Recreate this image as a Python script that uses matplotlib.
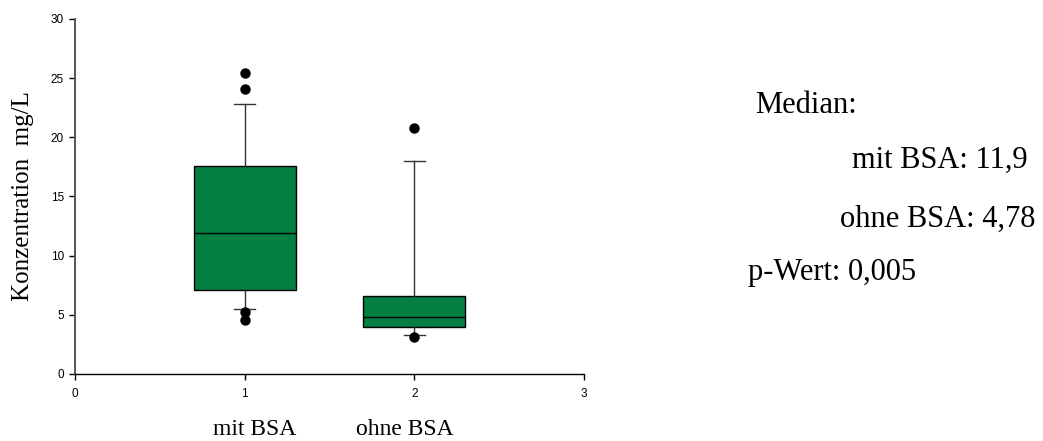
import matplotlib.pyplot as plt

# values (mg/L)
groups = ["mit BSA", "ohne BSA"]
positions = [1, 2]
q1 = [7.1, 4.0]
medians = [11.9, 4.78]
q3 = [17.6, 6.55]
whis_low = [5.5, 3.3]
whis_high = [22.8, 18.0]
outliers = [[25.4, 24.1, 5.2, 4.6], [20.8, 3.1]]

notes_head = "Median:"
notes_mit = "mit BSA: 11,9"
notes_ohne = "ohne BSA: 4,78"
notes_p = "p-Wert: 0,005"

serif = ["Liberation Serif", "DejaVu Serif"]
sans = ["Liberation Sans", "DejaVu Sans"]

fig = plt.figure(figsize=(10.43, 4.41), dpi=100)
ax = fig.add_axes([0.0719, 0.152, 0.488, 0.805])

stats = []
for i in range(len(groups)):
    stats.append({"label": str(positions[i]), "q1": q1[i], "med": medians[i], "q3": q3[i],
                  "whislo": whis_low[i], "whishi": whis_high[i], "fliers": outliers[i]})

ax.bxp(stats, positions=positions, widths=0.6, capwidths=0.125, patch_artist=True,
       boxprops=dict(facecolor="#037f41", edgecolor="black", linewidth=1.0),
       medianprops=dict(color="black", linewidth=1.0),
       whiskerprops=dict(color="#333333", linewidth=1.0),
       capprops=dict(color="#333333", linewidth=1.0),
       flierprops=dict(marker="o", markerfacecolor="black", markeredgecolor="black", markersize=6.5))

ax.set_xlim(0, 3)
ax.set_ylim(0, 30)
ax.set_xticks([0, 1, 2, 3])
ax.set_xticklabels(["0", "1", "2", "3"])
ax.set_yticks(range(0, 31, 5))
for lab in ax.get_xticklabels() + ax.get_yticklabels():
    lab.set_family(sans)
    lab.set_fontsize(8.5)
ax.tick_params(direction="out", length=4, width=1, colors="black")
ax.tick_params(axis="x", pad=6)
ax.tick_params(axis="y", pad=4)
ax.spines["top"].set_visible(False)
ax.spines["right"].set_visible(False)
ax.spines["left"].set_color("#555555")
ax.spines["left"].set_linewidth(1.4)
ax.spines["bottom"].set_linewidth(1.0)

# axis label and group names as figure text
fig.text(23 / 1043, 1 - 196 / 441, "Konzentration  mg/L", rotation=90, ha="center", va="center",
         family=serif, fontsize=18)
for pos, name in zip(positions, groups):
    x_disp = ax.transData.transform((pos, 0))[0]
    fig.text(x_disp / 1043 + (10 if pos == 1 else -10) / 1043, 1 - 435 / 441, name,
             ha="center", va="baseline", family=serif, fontsize=17)

fig.text(755 / 1043, 1 - 113 / 441, notes_head, ha="left", va="baseline", family=serif, fontsize=22)
fig.text(1028 / 1043, 1 - 168 / 441, notes_mit, ha="right", va="baseline", family=serif, fontsize=22)
fig.text(1035 / 1043, 1 - 227 / 441, notes_ohne, ha="right", va="baseline", family=serif, fontsize=22)
fig.text(748 / 1043, 1 - 280 / 441, notes_p, ha="left", va="baseline", family=serif, fontsize=22)

fig.savefig("out.png", dpi=100)
